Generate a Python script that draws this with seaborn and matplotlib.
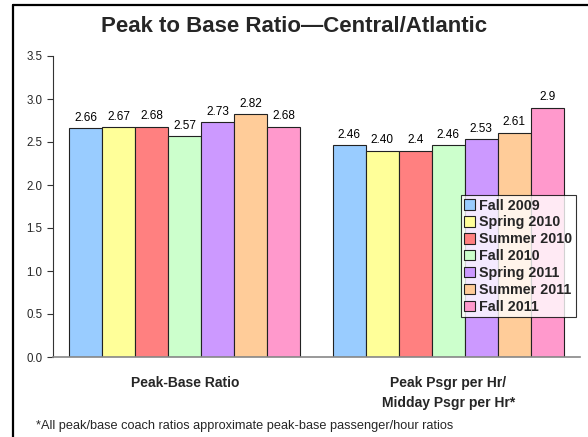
import matplotlib
matplotlib.use("Agg")
import matplotlib.pyplot as plt
import seaborn as sns
import pandas as pd
from matplotlib.lines import Line2D

categories = ["Peak-Base Ratio", "Peak Psgr per Hr/\nMidday Psgr per Hr*"]
seasons = ["Fall 2009", "Spring 2010", "Summer 2010", "Fall 2010",
           "Spring 2011", "Summer 2011", "Fall 2011"]
peak_base = [2.66, 2.67, 2.68, 2.57, 2.73, 2.82, 2.68]
peak_psgr = [2.46, 2.40, 2.40, 2.46, 2.53, 2.61, 2.90]
peak_base_labels = ["2.66", "2.67", "2.68", "2.57", "2.73", "2.82", "2.68"]
peak_psgr_labels = ["2.46", "2.40", "2.4", "2.46", "2.53", "2.61", "2.9"]
colors = ["#99CCFF", "#FFFF99", "#FF8080", "#CCFFCC", "#CC99FF", "#FFCC99", "#FF99CC"]
y_ticks = [0.0, 0.5, 1.0, 1.5, 2.0, 2.5, 3.0, 3.5]

rows = []
for s, v in zip(seasons, peak_base):
    rows.append({"category": categories[0], "season": s, "value": v})
for s, v in zip(seasons, peak_psgr):
    rows.append({"category": categories[1], "season": s, "value": v})
df = pd.DataFrame(rows)

sns.set_theme(style="white")
plt.rcParams["font.family"] = ["Liberation Sans", "DejaVu Sans"]

fig = plt.figure(figsize=(5.88, 4.37), dpi=100)
ax = fig.add_axes([53/588, 1-357/437, (580-53)/588, (357-56)/437])

sns.barplot(data=df, x="category", y="value", hue="season", order=categories,
            hue_order=seasons, palette=colors, width=0.875, ax=ax,
            edgecolor="#222222", linewidth=0.8, saturation=1, legend=True)

labels_by_season = list(zip(peak_base_labels, peak_psgr_labels))
for cont, labs in zip(ax.containers, labels_by_season):
    ax.bar_label(cont, labels=list(labs), padding=3, fontsize=8.5, color="black")

ax.set_ylim(0, 3.5)
ax.set_yticks(y_ticks)
ax.set_yticklabels([f"{t:.1f}" for t in y_ticks], fontsize=8.3)
ax.set_xlim(-0.5, 1.5)
ax.set_xticks([0, 1])
ax.set_xticklabels(categories, fontsize=10, fontweight="bold", linespacing=1.5)
ax.set_xticks([-0.5, 0.5, 1.5], minor=True)
ax.tick_params(axis="x", which="major", length=0, pad=14)
ax.tick_params(axis="x", which="minor", length=4, width=1, color="#333333", direction="out")
ax.tick_params(axis="y", length=4, width=0.8, color="#333333", direction="out", left=True, pad=3.5)
ax.set_xlabel("")
ax.set_ylabel("")
for side in ["top", "right"]:
    ax.spines[side].set_visible(False)
ax.spines["left"].set_color("#333333")
ax.spines["bottom"].set_color("#888888")
ax.spines["left"].set_linewidth(0.8)
ax.spines["bottom"].set_linewidth(1.2)

leg = ax.legend(loc="upper right", bbox_to_anchor=(576/588, 1-195/437),
                bbox_transform=fig.transFigure, frameon=True, fancybox=False,
                prop={"weight": "bold", "size": 10.3}, handlelength=0.75,
                handleheight=0.75, handletextpad=0.3, labelspacing=0.2,
                borderpad=0.25, borderaxespad=0)
leg.get_frame().set_edgecolor("black")
leg.get_frame().set_linewidth(0.8)
for h in leg.legend_handles:
    h.set_edgecolor("#222222")
    h.set_linewidth(0.8)

fig.text(0.5, 1-27/437, "Peak to Base Ratio\u2014Central/Atlantic", ha="center",
         va="center", fontsize=16, fontweight="bold")
fig.text(36/588, 1-426/437, "*All peak/base coach ratios approximate peak-base passenger/hour ratios",
         ha="left", va="center", fontsize=9.2)

fig.add_artist(Line2D([13/588, 13/588], [0, 1-5/437], transform=fig.transFigure,
                      color="black", linewidth=1.6))
fig.add_artist(Line2D([13/588, 1], [1-5/437, 1-5/437], transform=fig.transFigure,
                      color="black", linewidth=1.6))

fig.savefig("out.png", dpi=100)
